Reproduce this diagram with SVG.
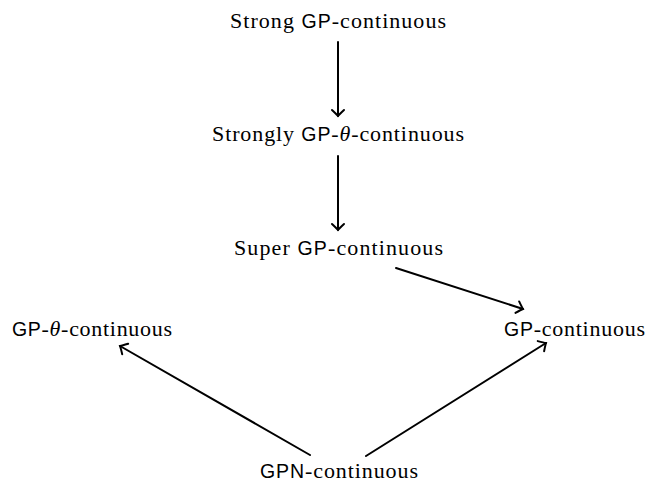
<svg xmlns="http://www.w3.org/2000/svg" width="646" height="483" viewBox="0 0 646 483">
<style>
text{font-family:"Liberation Serif","Times New Roman",serif;font-size:22px;fill:#000;text-anchor:middle}
.sf{font-family:"Liberation Sans",Arial,sans-serif;font-size:19.5px}
.it{font-style:italic}
.e{fill:none;stroke:#000;stroke-width:2;stroke-linecap:round}
</style>
<defs>
<marker id="ah" markerUnits="userSpaceOnUse" markerWidth="16" markerHeight="16" refX="0" refY="0" viewBox="-10 -8 12 16" orient="auto" overflow="visible">
<path d="M-6,-6 Q-1.5,-1.2 0,0 Q-1.5,1.2 -6,6" fill="none" stroke="#000" stroke-width="2" stroke-linecap="round"/>
</marker>
</defs>
<rect width="646" height="483" fill="#fff"/>
<g id="connectors">
<line class="e" x1="338" y1="42" x2="338" y2="116" marker-end="url(#ah)"/>
<line class="e" x1="338" y1="156" x2="338" y2="230" marker-end="url(#ah)"/>
<line class="e" x1="396" y1="268" x2="523" y2="309" marker-end="url(#ah)"/>
<line class="e" x1="310" y1="455" x2="120" y2="346" marker-end="url(#ah)"/>
<line class="e" x1="366" y1="456" x2="546" y2="343" marker-end="url(#ah)"/>
</g>
<g id="n1"><text x="338" y="28" textLength="216" lengthAdjust="spacing">Strong <tspan class="sf">GP</tspan>-continuous</text></g>
<g id="n2"><text x="338" y="141" textLength="252" lengthAdjust="spacing">Strongly <tspan class="sf">GP</tspan>-<tspan class="it">θ</tspan>-continuous</text></g>
<g id="n3"><text x="338.5" y="255" textLength="209" lengthAdjust="spacing">Super <tspan class="sf">GP</tspan>-continuous</text></g>
<g id="n4"><text x="92" y="336" textLength="160" lengthAdjust="spacing"><tspan class="sf">GP</tspan>-<tspan class="it">θ</tspan>-continuous</text></g>
<g id="n5"><text x="574.5" y="336" textLength="141" lengthAdjust="spacing"><tspan class="sf">GP</tspan>-continuous</text></g>
<g id="n6"><text x="339" y="478" textLength="158" lengthAdjust="spacing"><tspan class="sf">GPN</tspan>-continuous</text></g>
</svg>
